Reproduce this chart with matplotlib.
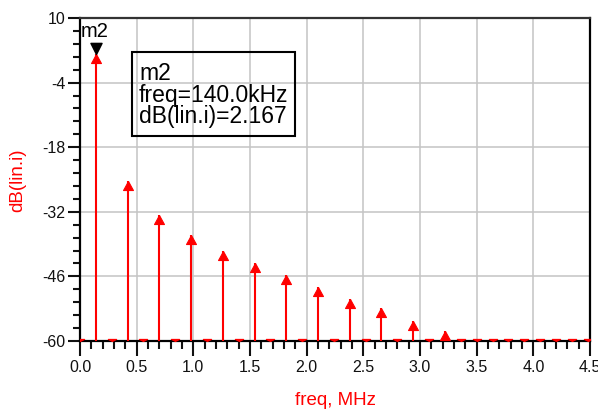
import matplotlib
matplotlib.use('Agg')
import matplotlib.pyplot as plt
from matplotlib.ticker import AutoMinorLocator
from matplotlib.patches import Rectangle
from matplotlib.path import Path

plt.rcParams['font.family'] = ['Liberation Sans', 'DejaVu Sans']
plt.rcParams['axes.unicode_minus'] = False

# harmonics above the -60 dB floor (MHz, dB)
peak_freq = [0.14, 0.42, 0.70, 0.98, 1.26, 1.54, 1.82, 2.10, 2.38, 2.66, 2.94, 3.22]
peak_db = [2.167, -25.3, -32.7, -37.0, -40.5, -43.2, -45.6, -48.2, -50.8, -52.9, -55.6, -57.8]

# points sitting at the bottom of the plot range
floor_freq = [0.00, 0.28, 0.56, 0.84, 1.12, 1.40, 1.68, 1.96, 2.24, 2.52, 2.80, 3.08,
              3.36, 3.50, 3.64, 3.78, 3.92, 4.06, 4.20, 4.34, 4.48]
floor_db = [-60, -60, -60, -60, -60, -60, -60, -60, -60, -60, -60, -60,
            -60, -60, -60, -60, -60, -60, -60, -60, -60]

y_ticks = [10, -4, -18, -32, -46, -60]
x_ticks = [0.0, 0.5, 1.0, 1.5, 2.0, 2.5, 3.0, 3.5, 4.0, 4.5]

marker_freq = 0.14
marker_db = 2.167

# triangle markers with the tip on the data point
up_tri = Path([(0, 0), (-0.55, -1), (0.55, -1), (0, 0)], closed=True)
down_tri = Path([(0, 0), (-0.5, 1), (0.5, 1), (0, 0)], closed=True)
floor_mark = Path([(0, 0), (-1, 0.5), (1, 0.5), (0, 0)], closed=True)

fig = plt.figure(figsize=(5.98, 4.11), dpi=100)
ax = fig.add_axes([80/598, 1-341/411, 510/598, 323/411])

ax.vlines(peak_freq, -60, peak_db, color='red', lw=1.5, zorder=3)
ax.plot(peak_freq, peak_db, ls='none', marker=up_tri, ms=13, color='red',
        mec='red', mew=0.8, zorder=4)
ax.plot(floor_freq, floor_db, ls='none', marker=floor_mark, ms=6, color='red',
        mec='red', mew=0.8, zorder=4)

# marker m2
ax.plot([marker_freq], [marker_db], ls='none', marker=down_tri, ms=16,
        color='black', zorder=5, clip_on=False)
ax.text(0.002, 0.941, 'm2', transform=ax.transAxes, fontsize=14.5,
        ha='left', va='baseline', color='black')

ax.add_patch(Rectangle((0.1025, 0.6356), 0.3191, 0.2584, transform=ax.transAxes,
                       fill=False, ec='black', lw=1.5, zorder=6))
lines = ['m2', 'freq=140.0kHz', 'dB(lin.i)=2.167']
for txt, yb in zip(lines, [0.808, 0.739, 0.674]):
    ax.text(0.1157, yb, txt, transform=ax.transAxes, fontsize=16.5,
            ha='left', va='baseline', color='black', zorder=6)

ax.set_xlim(0, 4.5)
ax.set_ylim(-60, 10)
ax.set_xticks(x_ticks)
ax.set_xticklabels(['%.1f' % v for v in x_ticks])
ax.set_yticks(y_ticks)
ax.xaxis.set_minor_locator(AutoMinorLocator(5))
ax.yaxis.set_minor_locator(AutoMinorLocator(5))

ax.grid(True, which='major', color='#c4c4c4', lw=1.1)
ax.set_axisbelow(True)

ax.tick_params(axis='x', which='major', length=10.5, width=1.5, pad=3,
               labelsize=11.5, colors='#111111')
ax.tick_params(axis='x', which='minor', length=5.5, width=1.5, color='#111111')
ax.tick_params(axis='y', which='major', length=9, width=1.5, pad=1.5,
               labelsize=11.5, colors='#111111')
ax.tick_params(axis='y', which='minor', length=5, width=1.5, color='#111111')

for side in ['left', 'bottom', 'right']:
    ax.spines[side].set_linewidth(1.6)
    ax.spines[side].set_color('black')
ax.spines['top'].set_linewidth(1.6)
ax.spines['top'].set_color('#333333')

fig.text(335/598, 1-400/411, 'freq, MHz', color='red', fontsize=13.5,
         ha='center', va='center')
fig.text(18/598, 1-180/411, 'dB(lin.i)', color='red', fontsize=13.5,
         ha='center', va='center', rotation=90)

fig.savefig('out.png', dpi=100)
